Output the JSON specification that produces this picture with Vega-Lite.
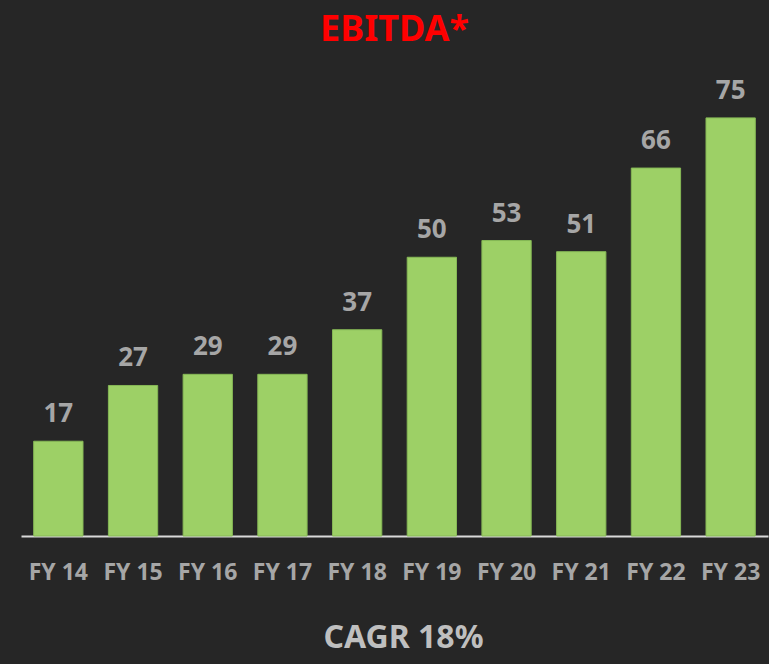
{
  "$schema": "https://vega.github.io/schema/vega-lite/v6.json",
  "width": 747,
  "height": 446,
  "autosize": "none",
  "padding": {"left": 21, "top": 90, "right": 1, "bottom": 128},
  "background": "#262626",
  "title": {
    "text": "EBITDA*",
    "color": "#FF0000",
    "font": "Noto Sans",
    "fontSize": 36,
    "fontWeight": "bold",
    "anchor": "middle",
    "offset": 29
  },
  "data": {
    "values": [
      {"year": "FY 14", "ebitda": 17},
      {"year": "FY 15", "ebitda": 27},
      {"year": "FY 16", "ebitda": 29},
      {"year": "FY 17", "ebitda": 29},
      {"year": "FY 18", "ebitda": 37},
      {"year": "FY 19", "ebitda": 50},
      {"year": "FY 20", "ebitda": 53},
      {"year": "FY 21", "ebitda": 51},
      {"year": "FY 22", "ebitda": 66},
      {"year": "FY 23", "ebitda": 75}
    ]
  },
  "config": {
    "view": {"stroke": null},
    "font": "Noto Sans"
  },
  "encoding": {
    "x": {
      "field": "year",
      "type": "nominal",
      "sort": null,
      "scale": {"paddingInner": 0.34, "paddingOuter": 0.17},
      "axis": {
        "title": "CAGR 18%",
        "titleColor": "#BFBFBF",
        "titleFontSize": 32,
        "titleFontWeight": "bold",
        "titlePadding": 38,
        "titleX": 382,
        "titleAlign": "center",
        "labelColor": "#A6A6A6",
        "labelFontSize": 23,
        "labelFontWeight": "bold",
        "labelPadding": 25,
        "labelAngle": 0,
        "ticks": false,
        "domainColor": "#D9D9D9",
        "domainWidth": 2
      }
    },
    "y": {
      "field": "ebitda",
      "type": "quantitative",
      "scale": {"domain": [0, 80]},
      "axis": null
    }
  },
  "layer": [
    {
      "mark": {"type": "bar", "color": "#9DD066", "stroke": "#86B856", "strokeWidth": 1}
    },
    {
      "mark": {
        "type": "text",
        "dy": -27,
        "color": "#A6A6A6",
        "fontSize": 26,
        "fontWeight": "bold"
      },
      "encoding": {"text": {"field": "ebitda", "type": "quantitative"}}
    }
  ]
}
